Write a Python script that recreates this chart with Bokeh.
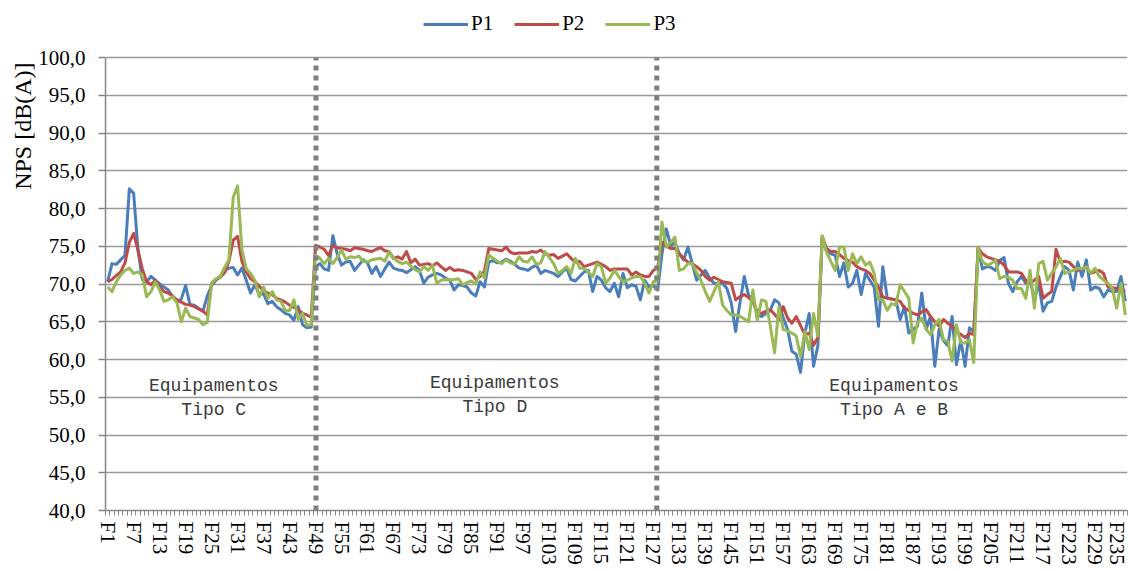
from bokeh.plotting import figure
from bokeh.models import Range1d, FixedTicker, Legend, LegendItem, Title, ColumnDataSource
from bokeh.embed import file_html
from bokeh.resources import INLINE
from bokeh.core.properties import value

# ---------------- data ----------------
categories = ["F%d" % i for i in range(1, 237)]

p1 = [70.3, 72.7, 72.6, 73.2, 73.8, 82.6, 82.0, 74.5, 70.6, 70.3,
      71.0, 70.5, 70.0, 69.6, 69.2, 68.3, 67.6, 68.0, 69.8, 67.3,
      67.2, 66.8, 66.4, 68.4, 69.8, 70.5, 71.0, 71.8, 72.1, 72.2,
      71.2, 72.1, 70.5, 68.8, 69.9, 68.6, 68.7, 67.4, 67.7, 67.0,
      66.6, 66.1, 65.9, 65.2, 67.0, 64.6, 64.2, 64.3, 72.3, 72.7,
      72.0, 71.8, 76.4, 74.0, 72.5, 72.9, 73.0, 71.8, 72.5, 73.2,
      72.8, 71.4, 72.3, 71.0, 72.0, 72.9, 72.1, 71.9, 71.8, 71.5,
      71.9, 72.3, 71.8, 70.1, 70.9, 71.2, 71.4, 71.2, 70.8, 70.5,
      69.2, 69.9, 69.8, 69.6, 68.8, 68.4, 70.3, 69.6, 72.9, 73.1,
      72.8, 72.9, 73.3, 73.0, 72.6, 72.1, 72.0, 71.8, 72.2, 72.5,
      71.4, 71.8, 71.6, 71.4, 71.0, 71.6, 72.1, 70.6, 70.4, 71.0,
      71.6, 71.8, 69.0, 71.0, 70.5, 69.5, 69.0, 70.1, 68.3, 71.4,
      69.5, 69.9, 69.7, 67.9, 70.5, 69.6, 69.8, 69.2, 74.0, 77.3,
      75.1, 75.5, 74.0, 73.2, 74.9, 72.7, 70.5, 71.2, 71.8, 70.8,
      70.1, 70.0, 70.1, 69.4, 67.5, 63.7, 67.5, 71.0, 68.5, 67.9,
      65.9, 65.7, 66.1, 66.5, 67.9, 67.5, 65.5, 64.0, 61.1, 60.7,
      58.3, 63.5, 66.1, 59.1, 61.8, 76.2, 74.4, 74.0, 73.8, 71.0,
      72.8, 69.6, 70.1, 71.8, 68.6, 71.4, 70.5, 69.6, 64.4, 72.3,
      68.2, 68.0, 67.9, 65.3, 67.0, 63.5, 64.0, 64.4, 68.8, 64.0,
      65.7, 59.1, 64.0, 62.5, 61.8, 65.7, 59.3, 62.6, 59.1, 64.2,
      63.7, 74.7, 72.0, 72.3, 72.2, 71.8, 73.1, 73.5, 70.1, 69.0,
      70.3, 71.0, 70.1, 70.5, 67.9, 70.1, 66.4, 67.5, 67.7, 69.6,
      71.0, 72.3, 71.8, 69.2, 72.9, 71.0, 73.2, 69.2, 69.6, 69.4,
      68.3, 69.2, 69.0, 69.0, 71.0, 67.7]

p2 = [70.3, 70.6, 71.1, 71.6, 72.8, 75.5, 76.7, 74.5, 72.0, 70.3,
      69.9, 70.5, 69.6, 69.0, 68.8, 68.4, 67.9, 67.6, 67.3, 67.2,
      67.0, 66.7, 66.4, 65.9, 70.1, 70.6, 70.9, 71.5, 73.0, 75.8,
      76.3, 73.0, 71.6, 70.7, 70.3, 69.7, 69.1, 68.8, 68.6, 68.1,
      67.9, 67.6, 67.2, 66.9, 66.6, 66.1, 65.9, 65.6, 75.1, 74.9,
      74.6, 73.8, 75.1, 74.8, 74.7, 74.6, 74.4, 74.8, 74.7, 74.6,
      74.4, 74.3, 74.6, 74.8, 74.4, 74.3, 73.4, 73.6, 73.3, 74.3,
      72.8, 73.3, 72.5, 72.6, 72.7, 72.4, 72.8, 72.3, 71.8, 72.2,
      71.8, 71.9, 71.8, 71.6, 71.4, 70.6, 71.0, 71.7, 74.7, 74.6,
      74.5, 74.4, 74.9, 74.2, 74.0, 74.1, 74.1, 74.1, 74.3, 74.2,
      74.5, 74.0, 73.8, 73.9, 73.4, 73.7, 74.0, 73.4, 72.9, 73.0,
      72.3, 72.5, 72.7, 72.9, 72.6, 72.3, 71.8, 72.0, 72.0, 72.0,
      72.0, 71.2, 71.6, 71.2, 71.0, 71.0, 71.8, 72.2, 75.5, 75.0,
      74.7, 74.7, 74.0, 73.4, 72.9, 72.7, 72.3, 71.8, 71.0, 70.5,
      70.9, 70.6, 70.3, 70.2, 70.1, 67.9, 68.3, 68.6, 68.2, 67.7,
      66.3, 66.1, 66.4, 66.6, 66.0, 65.3, 67.0, 65.5, 64.8, 65.7,
      64.5, 63.3, 63.5, 61.9, 62.9, 76.3, 74.7, 74.3, 74.3, 73.9,
      73.4, 73.1, 72.9, 72.3, 72.0, 71.8, 71.4, 70.5, 69.6, 68.3,
      68.1, 68.0, 67.9, 67.7, 66.8, 66.5, 66.1, 65.9, 66.3, 66.6,
      65.7, 65.0, 64.4, 65.3, 64.8, 64.4, 63.7, 63.3, 62.9, 63.5,
      63.3, 74.8, 74.0, 73.6, 73.4, 73.2, 73.0, 72.5, 71.6, 71.6,
      71.6, 71.4, 70.5, 70.1, 70.5, 71.0, 68.1, 68.6, 69.0, 74.6,
      72.9, 73.0, 72.9, 72.3, 71.8, 72.0, 72.3, 71.4, 71.6, 71.8,
      71.4, 69.6, 69.5, 69.4, 69.2, 69.0]

p3 = [69.6, 69.0, 70.3, 71.2, 71.8, 72.1, 71.4, 71.6, 71.2, 68.3,
      69.0, 70.3, 69.2, 67.7, 67.9, 68.3, 67.5, 65.0, 66.8, 65.7,
      65.5, 65.3, 64.6, 64.9, 70.1, 70.7, 71.0, 72.2, 73.2, 81.5,
      83.0, 74.5, 72.0, 71.4, 70.5, 68.3, 69.6, 68.1, 69.0, 67.9,
      67.7, 66.5, 66.5, 67.9, 65.3, 66.1, 64.5, 64.6, 73.8, 73.4,
      72.7, 73.4, 72.7, 73.5, 74.5, 73.3, 73.6, 73.5, 73.7, 73.0,
      72.9, 73.2, 73.3, 73.4, 73.0, 74.3, 73.4, 73.0, 72.7, 72.9,
      72.4, 71.9, 71.6, 72.3, 71.8, 72.5, 70.1, 70.5, 70.6, 70.5,
      70.6, 70.7, 69.9, 70.2, 70.4, 70.0, 71.6, 70.8, 73.8, 73.4,
      73.0, 72.7, 73.2, 72.8, 72.6, 73.6, 73.0, 72.9, 73.6, 72.6,
      72.8, 74.3, 73.5, 72.7, 71.4, 71.8, 72.3, 71.4, 73.4, 72.1,
      72.1, 71.6, 71.0, 72.7, 72.3, 70.1, 70.8, 71.8, 71.0, 70.3,
      70.5, 70.8, 71.0, 71.0, 70.1, 68.8, 70.3, 70.4, 78.2, 74.9,
      75.5, 76.2, 71.8, 72.0, 72.7, 72.7, 71.5, 70.5, 69.0, 67.7,
      69.0, 70.3, 67.2, 66.5, 65.9, 65.9, 65.7, 65.4, 65.0, 69.2,
      65.2, 67.9, 67.7, 64.5, 60.9, 67.0, 64.0, 63.8, 63.5, 63.1,
      60.4, 63.7, 61.3, 66.1, 63.1, 76.4, 74.2, 73.0, 71.8, 74.9,
      74.9, 71.8, 74.0, 72.7, 73.6, 72.5, 72.9, 71.4, 67.9, 67.9,
      66.5, 67.4, 67.2, 69.9, 69.0, 68.1, 62.2, 64.9, 65.5, 64.0,
      63.3, 64.6, 65.3, 62.6, 62.4, 59.8, 64.6, 62.2, 62.2, 62.6,
      59.6, 74.8, 73.0, 72.5, 72.7, 73.2, 70.7, 71.0, 70.9, 70.5,
      69.4, 69.4, 68.1, 71.8, 66.8, 72.7, 73.0, 70.5, 71.4, 72.3,
      73.4, 71.4, 71.6, 71.8, 72.1, 72.0, 72.3, 71.4, 72.1, 71.0,
      70.5, 70.1, 69.4, 66.8, 70.1, 65.9]

series_names = ["P1", "P2", "P3"]
series_colors = ["#4A7EBB", "#BE4B48", "#98B954"]

y_ticks = [40, 45, 50, 55, 60, 65, 70, 75, 80, 85, 90, 95, 100]
y_tick_labels = ["40,0", "45,0", "50,0", "55,0", "60,0", "65,0", "70,0",
                 "75,0", "80,0", "85,0", "90,0", "95,0", "100,0"]

section_top = ["Equipamentos", "Equipamentos", "Equipamentos"]
section_bottom = ["Tipo C", "Tipo D", "Tipo A e B"]

# ---------------- layout ----------------
n = len(categories)
x = list(range(1, n + 1))
src = ColumnDataSource(dict(x=x, p1=p1, p2=p2, p3=p3))

Y_MIN, Y_MAX = 40, 100
# the frame runs up to the top of the canvas so that the legend can sit above the 100 line
PX_PER_UNIT = 453 / (Y_MAX - Y_MIN)
y_top = Y_MAX + 57 / PX_PER_UNIT

p = figure(width=1128, height=571, x_range=Range1d(0.5, n + 0.5), y_range=Range1d(Y_MIN, y_top),
           output_backend="svg", toolbar_location=None,
           min_border_left=105, min_border_right=1, min_border_top=0, min_border_bottom=61)
p.outline_line_color = None
p.background_fill_color = "white"
p.border_fill_color = "white"

GRID = "#999999"
AX = "#868686"
SERIF = "Liberation Serif"

# y axis
p.yaxis.ticker = FixedTicker(ticks=y_ticks)
p.yaxis.bounds = (Y_MIN, Y_MAX)
p.yaxis.major_label_overrides = {t: l for t, l in zip(y_ticks, y_tick_labels)}
p.yaxis.major_label_text_font = SERIF
p.yaxis.major_label_text_font_size = "21px"
p.yaxis.major_label_text_color = "black"
p.yaxis.major_tick_out = 7
p.yaxis.major_tick_in = 0
p.yaxis.minor_tick_out = 0
p.yaxis.minor_tick_in = 0
p.yaxis.major_label_standoff = 13
p.yaxis.axis_line_color = AX
p.yaxis.axis_line_width = 1.5
p.yaxis.major_tick_line_color = AX
p.yaxis.major_tick_line_width = 1.5

# x axis
tick_pos = x[::6]
p.xaxis.ticker = FixedTicker(ticks=tick_pos, minor_ticks=[i + 0.5 for i in range(0, n + 1)])
p.xaxis.major_label_overrides = {t: categories[t - 1] for t in tick_pos}
p.xaxis.major_label_orientation = "vertical"
p.xaxis.major_label_text_font = SERIF
p.xaxis.major_label_text_font_size = "21px"
p.xaxis.major_label_text_color = "black"
p.xaxis.major_tick_out = 0
p.xaxis.major_tick_in = 0
p.xaxis.minor_tick_out = 5
p.xaxis.minor_tick_in = 0
p.xaxis.minor_tick_line_color = AX
p.xaxis.minor_tick_line_width = 1
p.xaxis.major_label_standoff = 6
p.xaxis.axis_line_color = AX
p.xaxis.axis_line_width = 1.5

p.xgrid.visible = False
p.ygrid.ticker = FixedTicker(ticks=y_ticks)
p.ygrid.grid_line_color = GRID
p.ygrid.grid_line_width = 1.6

# y axis title (placed near the top like the original)
p.add_layout(Title(text="NPS [dB(A)]", align="right", offset=62, standoff=0,
                   text_font=SERIF, text_font_size="24px", text_font_style="normal",
                   text_color="black"), "left")

# series
renderers = []
for key, col in zip(["p1", "p2", "p3"], series_colors):
    r = p.line("x", key, source=src, line_color=col, line_width=3, line_join="round")
    renderers.append(r)

# section dividers (between groups of equipment), dotted, from 40 to 100
divider_positions = [49.1, 127.8]
p.segment(x0=divider_positions, y0=[Y_MIN] * 2, x1=divider_positions, y1=[Y_MAX] * 2,
          line_color="#7F7F7F", line_width=5, line_dash="5 5")

# section annotations
sec_x = [25.5, 90.4, 182.6]
p.text(x=sec_x, y=[56.5, 56.9, 56.5], text=section_top,
       text_font=value("Liberation Mono"), text_font_size="18px",
       text_align="center", text_baseline="middle", text_color="#3A3A3A")
p.text(x=sec_x, y=[53.3, 53.7, 53.3], text=section_bottom,
       text_font=value("Liberation Mono"), text_font_size="18px",
       text_align="center", text_baseline="middle", text_color="#3A3A3A")

legend = Legend(items=[LegendItem(label=nm, renderers=[r]) for nm, r in zip(series_names, renderers)],
                orientation="horizontal", location=(318, 474))
legend.label_text_font = SERIF
legend.label_text_font_size = "21px"
legend.label_text_color = "black"
legend.glyph_width = 45
legend.glyph_height = 20
legend.label_height = 24
legend.label_standoff = 3
legend.spacing = 21
legend.padding = 0
legend.margin = 0
legend.border_line_color = None
legend.background_fill_alpha = 0
p.add_layout(legend)

open("out.html", "w").write(file_html(p, INLINE))
